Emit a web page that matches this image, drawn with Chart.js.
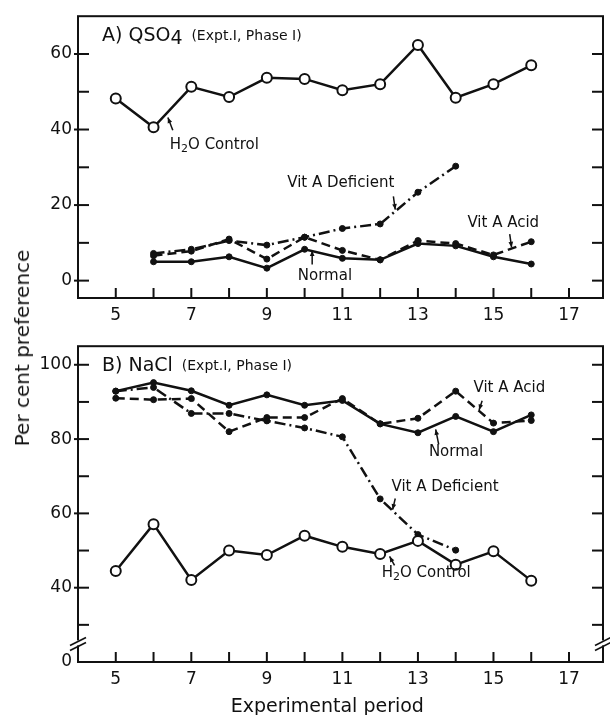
<!DOCTYPE html>
<html>
<head>
<meta charset="utf-8">
<script src="https://cdn.jsdelivr.net/npm/chart.js@4"></script>
<style>
  body { margin: 0; background: #fff; width: 610px; height: 715px; overflow: hidden; position: relative; font-family: "DejaVu Sans", sans-serif; }
  canvas { position: absolute; left: 0; }
  #chartA { top: 0; }
  #chartB { top: 330px; }
  #ytitle { position: absolute; left: 22px; top: 348px; transform: translate(-50%, -50%) rotate(-90deg); font-size: 20px; white-space: nowrap; color: #111; }
</style>
</head>
<body>
<canvas id="chartA" width="610" height="330"></canvas>
<canvas id="chartB" width="610" height="385"></canvas>
<div id="ytitle">Per cent preference</div>
<script>
// Panel A: QSO4
const periodsA = [5, 6, 7, 8, 9, 10, 11, 12, 13, 14, 15, 16];
const h2oA = [48.2, 40.6, 51.3, 48.6, 53.7, 53.4, 50.4, 52.0, 62.4, 48.4, 52.0, 57.0];
const periodsA2 = [6, 7, 8, 9, 10, 11, 12, 13, 14, 15, 16];
const normalA = [5.0, 5.0, 6.3, 3.3, 8.3, 5.9, 5.5, 9.8, 9.2, 6.3, 4.4];
const acidA = [6.6, 7.8, 11.0, 5.7, 11.5, 8.0, 5.5, 10.6, 9.8, 6.8, 10.3];
const periodsA3 = [6, 7, 8, 9, 10, 11, 12, 13, 14];
const deficientA = [7.2, 8.3, 10.6, 9.4, 11.5, 13.8, 15.0, 23.4, 30.3];

// Panel B: NaCl
const periodsB = [5, 6, 7, 8, 9, 10, 11, 12, 13, 14, 15, 16];
const h2oB = [44.5, 57.1, 42.1, 50.0, 48.8, 54.0, 51.0, 49.1, 52.6, 46.2, 49.8, 41.9];
const normalB = [92.9, 95.2, 93.0, 89.1, 91.9, 89.1, 90.4, 84.1, 81.7, 86.1, 82.0, 86.5];
const acidB = [91.0, 90.6, 90.9, 82.0, 85.8, 85.8, 90.9, 84.1, 85.6, 92.9, 84.3, 85.0];
const periodsB2 = [5, 6, 7, 8, 9, 10, 11, 12, 13, 14];
const deficientB = [92.9, 93.9, 86.9, 86.9, 84.9, 83.0, 80.6, 63.9, 54.3, 50.1];

// axis ticks
const xTickMarks = [5, 6, 7, 8, 9, 10, 11, 12, 13, 14, 15, 16, 17];
const yTicksA = [0, 10, 20, 30, 40, 50, 60];
const yLabelsA = [0, 20, 40, 60];
const yTicksB = [30, 40, 50, 60, 70, 80, 90, 100];
const yLabelsB = [40, 60, 80, 100];

const ink = '#111';
const font = '"DejaVu Sans", sans-serif';

function pts(xs, ys) { return xs.map((x, i) => ({x: x, y: ys[i]})); }

function openSeries(data) {
  return { data: data, borderColor: ink, borderWidth: 2.5, pointRadius: 5, pointBorderWidth: 2,
           pointBackgroundColor: '#fff', pointBorderColor: ink, tension: 0 };
}
function dotSeries(data, dash) {
  return { data: data, borderColor: ink, borderWidth: 2.5, borderDash: dash, pointRadius: 3,
           pointBackgroundColor: ink, pointBorderColor: ink, pointBorderWidth: 1, tension: 0 };
}

function runs(ctx, x, y, parts) {
  parts.forEach(p => {
    ctx.font = p.size + 'px ' + font;
    ctx.fillText(p.t, x, y + (p.dy || 0));
    x += ctx.measureText(p.t).width;
  });
}

function line(ctx, x1, y1, x2, y2) {
  ctx.beginPath(); ctx.moveTo(x1, y1); ctx.lineTo(x2, y2); ctx.stroke();
}

function arrow(ctx, x1, y1, x2, y2) {
  line(ctx, x1, y1, x2, y2);
  const ang = Math.atan2(y2 - y1, x2 - x1);
  ctx.beginPath();
  ctx.moveTo(x2, y2);
  ctx.lineTo(x2 - 6 * Math.cos(ang - 0.4), y2 - 6 * Math.sin(ang - 0.4));
  ctx.lineTo(x2 - 6 * Math.cos(ang + 0.4), y2 - 6 * Math.sin(ang + 0.4));
  ctx.closePath(); ctx.fill();
}

// frame, inward ticks, titles and labels
const paper = {
  id: 'paper',
  afterDraw(chart, args, o) {
    const ctx = chart.ctx, a = chart.chartArea, x = chart.scales.x, y = chart.scales.y;
    ctx.save();
    ctx.strokeStyle = ink; ctx.fillStyle = ink; ctx.lineWidth = 2;
    ctx.strokeRect(a.left, a.top, a.right - a.left, a.bottom - a.top);
    o.yTicks.forEach(v => {
      const py = y.getPixelForValue(v);
      const out = o.yLabels.includes(v) ? 4 : 0;
      line(ctx, a.left - out, py, a.left + 11, py);
      line(ctx, a.right - 11, py, a.right, py);
    });
    xTickMarks.forEach(v => {
      const px = x.getPixelForValue(v);
      line(ctx, px, a.bottom, px, a.bottom - 10);
    });
    if (o.breakAt !== undefined) {
      const py = y.getPixelForValue(o.breakAt);
      [a.left, a.right].forEach(px => {
        ctx.fillStyle = '#fff';
        ctx.fillRect(px - 3, py - 3, 6, 5);
        ctx.fillStyle = ink;
        ctx.lineWidth = 1.6;
        line(ctx, px - 8, py + 2, px + 8, py - 6);
        line(ctx, px - 8, py + 7, px + 8, py - 1);
      });
      ctx.lineWidth = 2;
    }
    // panel title
    ctx.textBaseline = 'middle';
    ctx.textAlign = 'left';
    runs(ctx, a.left + 24, a.top + 20, o.title);
    // notes and arrows
    ctx.lineWidth = 1.5;
    o.notes.forEach(n => {
      runs(ctx, x.getPixelForValue(n.x), y.getPixelForValue(n.y), n.parts);
      arrow(ctx, x.getPixelForValue(n.from[0]), y.getPixelForValue(n.from[1]),
                 x.getPixelForValue(n.to[0]), y.getPixelForValue(n.to[1]));
    });
    if (o.xTitle) {
      ctx.textAlign = 'center';
      ctx.font = '19px ' + font;
      ctx.fillText(o.xTitle, x.getPixelForValue(10.6), a.bottom + 45);
    }
    ctx.restore();
  }
};

function h2oLabel() {
  return [{t: 'H', size: 15}, {t: '2', size: 11, dy: 4}, {t: 'O Control', size: 15}];
}
function txt(s) { return [{t: s, size: 15}]; }

function makeChart(id, datasets, yMin, yMax, yTicksLabel, padTop, xH, paperOpts) {
  return new Chart(document.getElementById(id), {
    type: 'line',
    data: { datasets: datasets },
    plugins: [paper],
    options: {
      responsive: false,
      animation: false,
      layout: { padding: { left: 0, right: 2, top: padTop, bottom: 0 } },
      plugins: { legend: { display: false }, tooltip: { enabled: false }, paper: paperOpts },
      scales: {
        x: {
          type: 'linear', min: 4, max: 17.9,
          grid: { display: false, drawTicks: false }, border: { display: false },
          afterFit: s => { s.height = xH; },
          ticks: { stepSize: 1, includeBounds: false, autoSkip: false, maxRotation: 0, padding: 7, color: ink,
                   font: { size: 17, family: font },
                   callback: v => (Number.isInteger(v) && v % 2 === 1) ? String(v) : '' }
        },
        y: {
          min: yMin, max: yMax,
          grid: { display: false, drawTicks: false }, border: { display: false },
          afterFit: s => { s.width = 78; },
          ticks: { stepSize: 10, includeBounds: false, autoSkip: false, padding: 6, color: ink,
                   font: { size: 17, family: font }, callback: yTicksLabel }
        }
      }
    }
  });
}

makeChart('chartA', [
  openSeries(pts(periodsA, h2oA)),
  dotSeries(pts(periodsA2, normalA), []),
  dotSeries(pts(periodsA2, acidA), [9, 5]),
  dotSeries(pts(periodsA3, deficientA), [11, 4, 2, 4])
], -4.6, 70, v => yLabelsA.includes(v) ? String(v) : '', 13, 32, {
  yTicks: yTicksA, yLabels: yLabelsA,
  title: [{t: 'A) QSO', size: 19}, {t: '4', size: 19, dy: 3}, {t: '  (Expt.I, Phase I)', size: 14}],
  notes: [
    {x: 6.43, y: 35.9, parts: h2oLabel(), from: [6.51, 39.8], to: [6.38, 43.2]},
    {x: 9.54, y: 25.7, parts: txt('Vit A Deficient'), from: [12.35, 22.3], to: [12.4, 18.8]},
    {x: 14.31, y: 15.2, parts: txt('Vit A Acid'), from: [15.43, 12.3], to: [15.48, 8.8]},
    {x: 9.82, y: 1.3, parts: txt('Normal'), from: [10.2, 4.3], to: [10.2, 8.0]}
  ]
});

makeChart('chartB', [
  openSeries(pts(periodsB, h2oB)),
  dotSeries(pts(periodsB, normalB), []),
  dotSeries(pts(periodsB, acidB), [9, 5]),
  dotSeries(pts(periodsB2, deficientB), [11, 4, 2, 4])
], 20, 105, v => v === 20 ? '0' : (yLabelsB.includes(v) ? String(v) : ''), 7, 53, {
  yTicks: yTicksB, yLabels: yLabelsB, breakAt: 25,
  title: [{t: 'B) NaCl', size: 19}, {t: '  (Expt.I, Phase I)', size: 14}],
  xTitle: 'Experimental period',
  notes: [
    {x: 14.47, y: 93.7, parts: txt('Vit A Acid'), from: [14.7, 90.3], to: [14.62, 87.8]},
    {x: 13.29, y: 76.5, parts: txt('Normal'), from: [13.55, 78.6], to: [13.47, 82.6]},
    {x: 12.3, y: 67.1, parts: txt('Vit A Deficient'), from: [12.4, 64.0], to: [12.33, 61.0]},
    {x: 12.04, y: 43.9, parts: h2oLabel(), from: [12.38, 46.0], to: [12.25, 48.4]}
  ]
});
</script>
</body>
</html>
